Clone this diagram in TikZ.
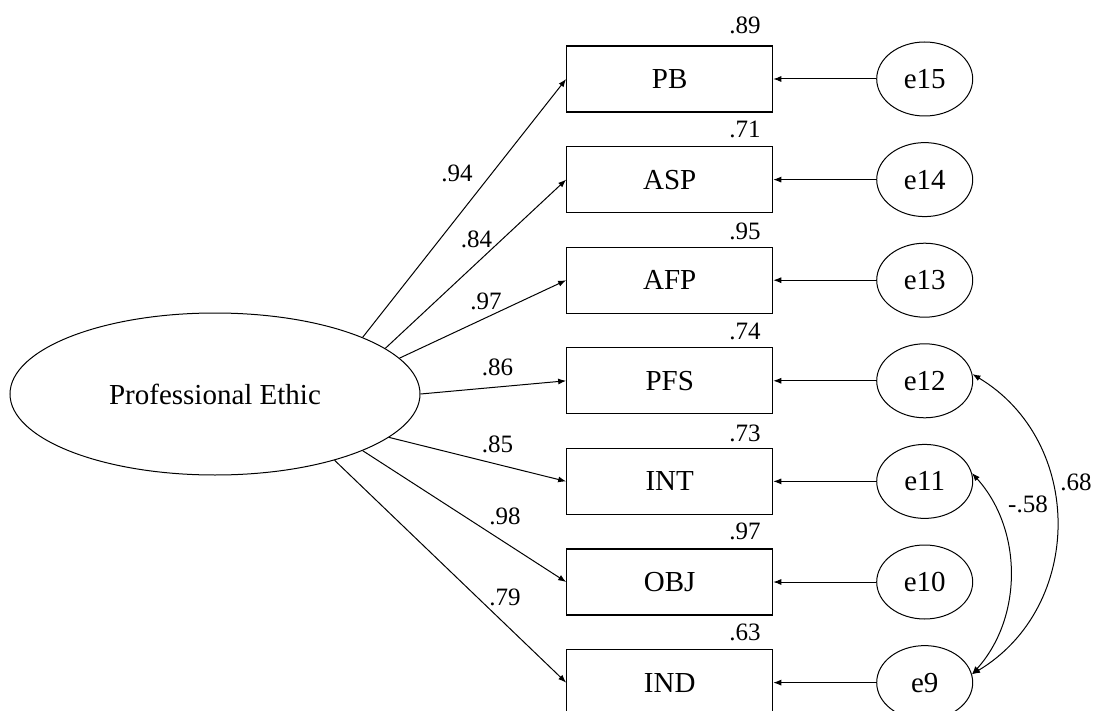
\documentclass[tikz,border=0pt]{standalone}
\usepackage{fontspec}
\setmainfont{Liberation Serif}
\usetikzlibrary{shapes.geometric,arrows.meta}
\begin{document}
\begin{tikzpicture}[x=1pt,y=1pt,
  lat/.style={ellipse,draw,line width=1pt,minimum width=410pt,minimum height=162pt,inner sep=0pt,font=\fontsize{29}{34}\selectfont},
  obs/.style={rectangle,draw,line width=1.1pt,minimum width=206pt,minimum height=66pt,inner sep=0pt,font=\fontsize{29}{34}\selectfont},
  err/.style={ellipse,draw,line width=1pt,minimum width=96pt,minimum height=74pt,inner sep=0pt,font=\fontsize{29}{34}\selectfont},
  num/.style={font=\fontsize{25}{30}\selectfont,inner sep=0pt},
  tip/.tip={Latex[length=8pt,width=6pt]},
  arr/.style={line width=1pt,-tip},
  cov/.style={line width=1pt,tip-tip}]
\useasboundingbox (0,0) rectangle (1094,-711);
\clip (0,0) rectangle (1094,-711);
\fill[white] (0,0) rectangle (1094,-711);

% latent
\node[lat] (pe) at (215,-394) {Professional Ethic};

% observed
\node[obs] (PB)  at (669.7,-79)    {PB};
\node[obs] (ASP) at (669.7,-179.6) {ASP};
\node[obs] (AFP) at (669.7,-280.2) {AFP};
\node[obs] (PFS) at (669.7,-380.8) {PFS};
\node[obs] (INT) at (669.7,-481.4) {INT};
\node[obs] (OBJ) at (669.7,-582)   {OBJ};
\node[obs] (IND) at (669.7,-682.6) {IND};

% errors
\node[err] (e15) at (924.7,-79)    {e15};
\node[err] (e14) at (924.7,-179.6) {e14};
\node[err] (e13) at (924.7,-280.2) {e13};
\node[err] (e12) at (924.7,-380.8) {e12};
\node[err] (e11) at (924.7,-481.4) {e11};
\node[err] (e10) at (924.7,-582)   {e10};
\node[err] (e9)  at (924.7,-682.6) {e9};

% squared multiple correlations
\node[num] (r15) at (745,-25)  {.89};
\node[num] (r14) at (745,-129) {.71};
\node[num] (r13) at (745,-231) {.95};
\node[num] (r12) at (745,-331) {.74};
\node[num] (r11) at (745,-433) {.73};
\node[num] (r10) at (745,-531) {.97};
\node[num] (r9)  at (745,-632) {.63};

% loadings
\draw[arr] (pe.21.7)  -- (PB.west);
\draw[arr] (pe.15.3)  -- (ASP.west);
\draw[arr] (pe.11.1)  -- (AFP.west);
\draw[arr] (pe.0)     -- (PFS.west);
\draw[arr] (pe.-14.3) -- (INT.west);
\draw[arr] (pe.-21.8) -- (OBJ.west);
\draw[arr] (pe.-29.6) -- (IND.west);

\node[num] (l1) at (457,-173)   {.94};
\node[num] (l2) at (476.5,-239) {.84};
\node[num] (l3) at (486,-301)   {.97};
\node[num] (l4) at (497.5,-367) {.86};
\node[num] (l5) at (497.5,-444) {.85};
\node[num] (l6) at (505,-516.5) {.98};
\node[num] (l7) at (505,-597)   {.79};

% error paths
\draw[arr] (e15.west) -- (PB.east);
\draw[arr] (e14.west) -- (ASP.east);
\draw[arr] (e13.west) -- (AFP.east);
\draw[arr] (e12.west) -- (PFS.east);
\draw[arr] (e11.west) -- (INT.east);
\draw[arr] (e10.west) -- (OBJ.east);
\draw[arr] (e9.west)  -- (IND.east);

% covariances
\draw[cov] (e12.8) to[out=-31,in=31,looseness=1.12] (e9.10);
\draw[cov] (e11.10) to[out=-48,in=48,looseness=0.97] (e9.10);
\node[num] (c1) at (1076,-482) {.68};
\node[num] (c2) at (1028,-504) {-.58};
\end{tikzpicture}
\end{document}
